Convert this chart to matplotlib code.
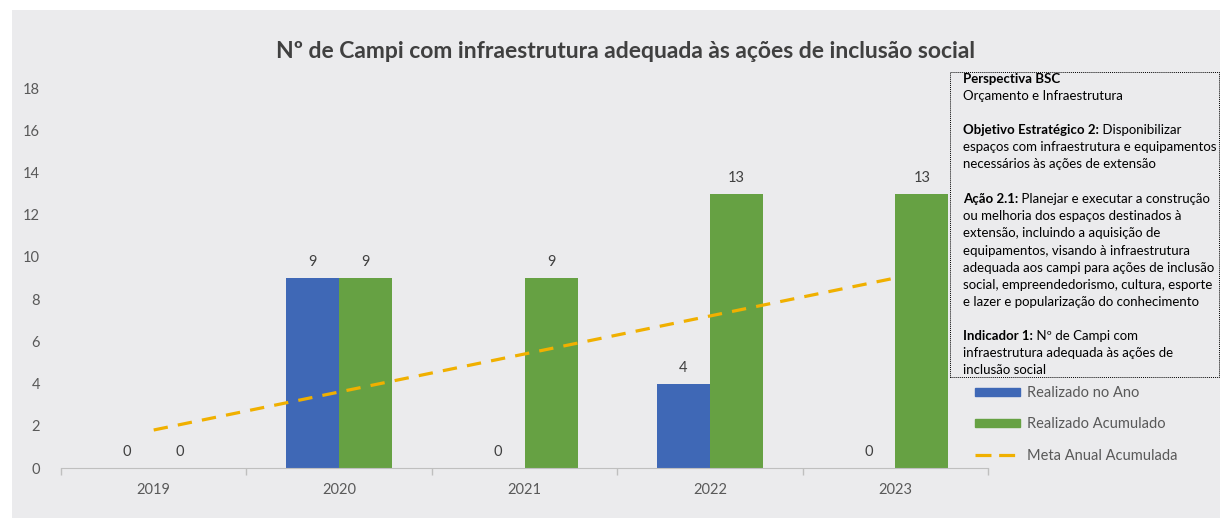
import matplotlib.pyplot as plt
from matplotlib.lines import Line2D
from matplotlib.patches import Patch, Rectangle
import numpy as np

plt.rcParams['font.family'] = ['Lato', 'DejaVu Sans']

anos = ['2019', '2020', '2021', '2022', '2023']
realizado_ano = [0, 9, 0, 4, 0]
realizado_acum = [0, 9, 9, 13, 13]
meta_acum = [1.8, 3.6, 5.4, 7.2, 9.0]

azul = '#3F68B6'
verde = '#66A143'
laranja = '#F0B000'
fundo = '#EBEBED'
cinza_txt = '#595959'

W, H = 1220, 518
fig = plt.figure(figsize=(W / 100, H / 100), dpi=100)
fig.patch.set_facecolor('white')
fig.patches.append(Rectangle((12 / W, 0), 1, 1 - 10 / H, transform=fig.transFigure,
                             facecolor=fundo, edgecolor='none', zorder=-10))

ax = fig.add_axes([61 / W, 1 - 468 / H, (988 - 61) / W, (468 - 88) / H])
ax.set_facecolor('none')

x = np.arange(len(anos))
w = 0.286
b1 = ax.bar(x - w / 2, realizado_ano, w, color=azul, label='Realizado no Ano', zorder=2)
b2 = ax.bar(x + w / 2, realizado_acum, w, color=verde, label='Realizado Acumulado', zorder=2)
ax.plot(x, meta_acum, color=laranja, lw=2.3, dashes=(4.5, 3.2), zorder=3,
        label='Meta Anual Acumulada')

for bars, vals in ((b1, realizado_ano), (b2, realizado_acum)):
    for r, v in zip(bars, vals):
        ax.annotate(str(v), (r.get_x() + r.get_width() / 2, v), xytext=(0, 6.5),
                    textcoords='offset points', ha='center', va='bottom',
                    fontsize=10.5, color='#404040')

ax.set_xlim(-0.5, len(anos) - 0.5)
ax.set_ylim(0, 18)
ax.set_yticks(range(0, 19, 2))
ax.set_xticks(x)
ax.set_xticklabels(anos)
ax.set_xticks(np.arange(-0.5, len(anos)), minor=True)
ax.tick_params(axis='x', which='major', length=0, pad=11, labelsize=10.5, labelcolor=cinza_txt)
ax.tick_params(axis='x', which='minor', length=5, color='#BFBFBF', width=1)
ax.tick_params(axis='y', length=0, pad=15, labelsize=10.5, labelcolor=cinza_txt)
for s in ('top', 'right', 'left'):
    ax.spines[s].set_visible(False)
ax.spines['bottom'].set_color('#BFBFBF')

fig.text(625 / W, 1 - 51 / H, 'Nº de Campi com infraestrutura adequada às ações de inclusão social',
         ha='center', va='center', fontsize=16.5, fontweight='bold', color='#404040')

# caixa de texto
fig.patches.append(Rectangle((950 / W, 1 - 377 / H), (1219 - 950) / W, (377 - 72) / H,
                             transform=fig.transFigure, facecolor=fundo, edgecolor='black',
                             lw=0.7, linestyle=(0, (1, 1)), zorder=5))

linhas = [
    (79, 'Perspectiva BSC', ''),
    (96, '', 'Orçamento e Infraestrutura'),
    (130, 'Objetivo Estratégico 2:', ' Disponibilizar'),
    (147, '', 'espaços com infraestrutura e equipamentos'),
    (164, '', 'necessários às ações de extensão'),
    (199, 'Ação 2.1:', ' Planejar e executar a construção'),
    (216, '', 'ou melhoria dos espaços destinados à'),
    (233, '', 'extensão, incluindo a aquisição de'),
    (251, '', 'equipamentos, visando à infraestrutura'),
    (268, '', 'adequada aos campi para ações de inclusão'),
    (285, '', 'social, empreendedorismo, cultura, esporte'),
    (302, '', 'e lazer e popularização do conhecimento'),
    (336, 'Indicador 1:', ' Nº de Campi com'),
    (353, '', 'infraestrutura adequada às ações de'),
    (370, '', 'inclusão social'),
]
renderer = fig.canvas.get_renderer()
fs = 9.5
for yp, negrito, normal in linhas:
    x0 = 963 / W
    if negrito:
        t = fig.text(x0, 1 - yp / H, negrito, fontsize=fs, fontweight='bold',
                     va='center', ha='left', zorder=6)
        bb = t.get_window_extent(renderer)
        x0 = bb.x1 / W
    if normal:
        fig.text(x0, 1 - yp / H, normal, fontsize=fs, va='center', ha='left', zorder=6)

handles = [Patch(color=azul), Patch(color=verde),
           Line2D([], [], color=laranja, lw=2.3, dashes=(5.0, 2.4))]
fig.legend(handles, ['Realizado no Ano', 'Realizado Acumulado', 'Meta Anual Acumulada'],
           loc='upper left', bbox_to_anchor=(975 / W, 1 - 386 / H), frameon=False,
           fontsize=10.5, labelcolor=cinza_txt, handlelength=3.1, handleheight=0.45,
           handletextpad=0.45, labelspacing=1.2, borderpad=0, borderaxespad=0)

fig.savefig('out.png', dpi=100)
